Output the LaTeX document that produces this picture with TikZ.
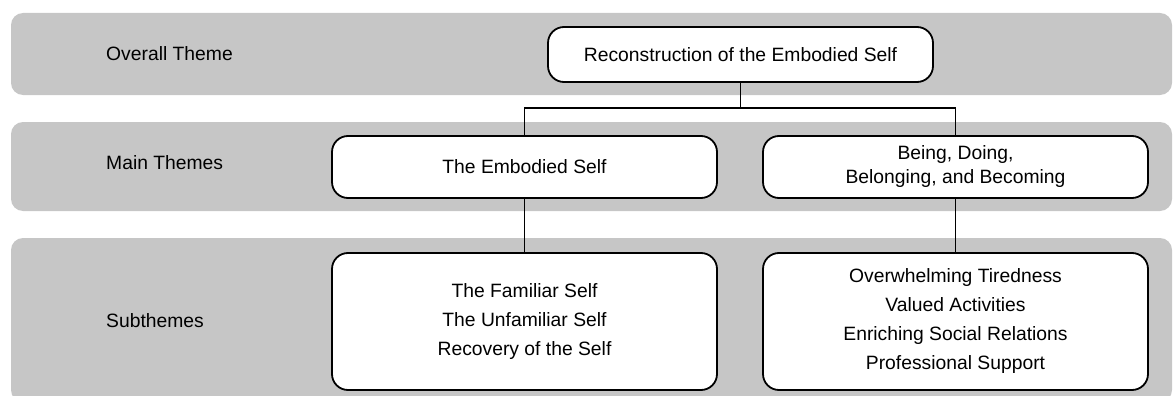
\documentclass[tikz,border=0pt]{standalone}
\usepackage{fontspec}
\setmainfont{Liberation Sans}
\begin{document}
\begin{tikzpicture}[x=1pt,y=-1pt,
  band/.style={fill=bandgray, draw=none, rounded corners=12pt},
  tbox/.style={draw=black, line width=1.8pt, fill=white, rounded corners=16pt, inner sep=0pt, align=center, font=\fontsize{19.3}{24}\selectfont},
  lbl/.style={anchor=west, inner sep=0pt, font=\fontsize{19.3}{23}\selectfont},
  conn/.style={draw=black, line width=1.8pt}]
\definecolor{bandgray}{HTML}{C6C6C6}
\useasboundingbox (0,0) rectangle (1173,396);
\fill[band] (11,13) rectangle (1172,95);
\fill[band] (11,122) rectangle (1172,211);
\fill[band] (11,238) rectangle (1172,402);
\node[lbl] (l1) at (106,54) {Overall Theme};
\node[lbl] (l2) at (106,163) {Main Themes};
\node[lbl] (l3) at (106,321) {Subthemes};
\node[tbox, minimum width=385pt, minimum height=55pt] (top) at (740.5,54.5) {Reconstruction of the Embodied Self};
\node[tbox, minimum width=385pt, minimum height=62pt] (m1) at (524.5,167) {The Embodied Self};
\node[tbox, minimum width=385pt, minimum height=62pt] (m2) at (955.5,167) {Being, Doing,\\Belonging, and Becoming};
\node[tbox, minimum width=385pt, minimum height=137pt, font=\fontsize{19.3}{29}\selectfont] (s1) at (524.5,321.5) {The Familiar Self\\The Unfamiliar Self\\Recovery of the Self};
\node[tbox, minimum width=385pt, minimum height=137pt, font=\fontsize{19.3}{29}\selectfont] (s2) at (955.5,321.5) {Overwhelming Tiredness\\Valued Activities\\Enriching Social Relations\\Professional Support};
\coordinate (j) at (740.5,108);
\draw[conn] (top.south) -- (j);
\draw[conn] (m1.north) |- (j) -| (m2.north);
\draw[conn] (m1.south) -- (s1.north);
\draw[conn] (m2.south) -- (s2.north);
\end{tikzpicture}
\end{document}
